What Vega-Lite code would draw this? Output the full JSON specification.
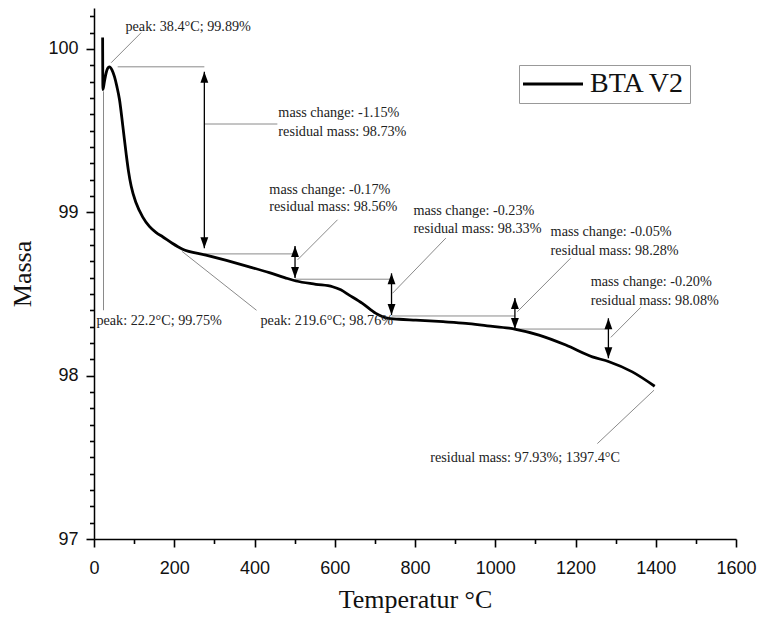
{
  "$schema": "https://vega.github.io/schema/vega-lite/v6.json",
  "width": 642,
  "height": 531,
  "autosize": {"type": "none"},
  "padding": {"left": 94, "top": 8, "right": 27, "bottom": 90},
  "background": "white",
  "config": {
    "view": {"stroke": null},
    "axis": {
      "grid": false,
      "domainColor": "#000",
      "domainWidth": 1.5,
      "tickColor": "#000",
      "tickWidth": 1.6,
      "labelFont": "Liberation Sans",
      "labelFontSize": 18,
      "labelColor": "#111",
      "titleFont": "Liberation Serif",
      "titleFontSize": 26,
      "titleFontWeight": "normal",
      "titleColor": "#111"
    }
  },
  "datasets": {
    "curve": [
      {"T": 21.5, "M": 100.07, "series": "BTA V2"},
      {"T": 22.2, "M": 99.75, "series": "BTA V2"},
      {"T": 26, "M": 99.80, "series": "BTA V2"},
      {"T": 30, "M": 99.85, "series": "BTA V2"},
      {"T": 34, "M": 99.88, "series": "BTA V2"},
      {"T": 38.4, "M": 99.89, "series": "BTA V2"},
      {"T": 45, "M": 99.87, "series": "BTA V2"},
      {"T": 51, "M": 99.83, "series": "BTA V2"},
      {"T": 57, "M": 99.77, "series": "BTA V2"},
      {"T": 63.5, "M": 99.69, "series": "BTA V2"},
      {"T": 71.7, "M": 99.53, "series": "BTA V2"},
      {"T": 80, "M": 99.36, "series": "BTA V2"},
      {"T": 86, "M": 99.25, "series": "BTA V2"},
      {"T": 92.6, "M": 99.16, "series": "BTA V2"},
      {"T": 105, "M": 99.056, "series": "BTA V2"},
      {"T": 121.5, "M": 98.97, "series": "BTA V2"},
      {"T": 138, "M": 98.913, "series": "BTA V2"},
      {"T": 155, "M": 98.875, "series": "BTA V2"},
      {"T": 171, "M": 98.85, "series": "BTA V2"},
      {"T": 195, "M": 98.81, "series": "BTA V2"},
      {"T": 219.6, "M": 98.775, "series": "BTA V2"},
      {"T": 279, "M": 98.738, "series": "BTA V2"},
      {"T": 330, "M": 98.705, "series": "BTA V2"},
      {"T": 387, "M": 98.666, "series": "BTA V2"},
      {"T": 437, "M": 98.63, "series": "BTA V2"},
      {"T": 475, "M": 98.6, "series": "BTA V2"},
      {"T": 503.5, "M": 98.579, "series": "BTA V2"},
      {"T": 553, "M": 98.559, "series": "BTA V2"},
      {"T": 594.6, "M": 98.544, "series": "BTA V2"},
      {"T": 615, "M": 98.525, "series": "BTA V2"},
      {"T": 636, "M": 98.493, "series": "BTA V2"},
      {"T": 669, "M": 98.442, "series": "BTA V2"},
      {"T": 702.6, "M": 98.381, "series": "BTA V2"},
      {"T": 727.6, "M": 98.354, "series": "BTA V2"},
      {"T": 760, "M": 98.345, "series": "BTA V2"},
      {"T": 802, "M": 98.34, "series": "BTA V2"},
      {"T": 870, "M": 98.33, "series": "BTA V2"},
      {"T": 927, "M": 98.32, "series": "BTA V2"},
      {"T": 980, "M": 98.305, "series": "BTA V2"},
      {"T": 1034.6, "M": 98.29, "series": "BTA V2"},
      {"T": 1051, "M": 98.283, "series": "BTA V2"},
      {"T": 1109, "M": 98.248, "series": "BTA V2"},
      {"T": 1176, "M": 98.187, "series": "BTA V2"},
      {"T": 1242, "M": 98.115, "series": "BTA V2"},
      {"T": 1283.6, "M": 98.085, "series": "BTA V2"},
      {"T": 1341.6, "M": 98.023, "series": "BTA V2"},
      {"T": 1397.4, "M": 97.935, "series": "BTA V2"}
    ],
    "guides": [
      {"x": 117.5, "y": 100.099, "x2": 42.8, "y2": 99.915},
      {"x": 59, "y": 99.89, "x2": 275, "y2": 99.89},
      {"x": 275, "y": 99.54, "x2": 457, "y2": 99.54},
      {"x": 275, "y": 98.745, "x2": 501, "y2": 98.745},
      {"x": 507.5, "y": 98.709, "x2": 607, "y2": 98.954},
      {"x": 501, "y": 98.59, "x2": 741.5, "y2": 98.59},
      {"x": 744, "y": 98.504, "x2": 877, "y2": 98.842},
      {"x": 741.5, "y": 98.365, "x2": 1049, "y2": 98.365},
      {"x": 1055, "y": 98.391, "x2": 1188, "y2": 98.719},
      {"x": 1049, "y": 98.285, "x2": 1282, "y2": 98.285},
      {"x": 1288, "y": 98.234, "x2": 1362.6, "y2": 98.418},
      {"x": 1395.7, "y": 97.911, "x2": 1254.5, "y2": 97.584},
      {"x": 23.7, "y": 99.74, "x2": 23.7, "y2": 98.4},
      {"x": 219.6, "y": 98.76, "x2": 405, "y2": 98.4}
    ],
    "arrows": [
      {"x": 275, "y": 99.86, "y2": 98.779},
      {"x": 501, "y": 98.793, "y2": 98.597},
      {"x": 741.5, "y": 98.626, "y2": 98.371},
      {"x": 1049, "y": 98.475, "y2": 98.285},
      {"x": 1282, "y": 98.351, "y2": 98.106}
    ],
    "heads": [
      {"x": 275, "y": 99.86, "dir": "up"},
      {"x": 275, "y": 98.779, "dir": "down"},
      {"x": 501, "y": 98.793, "dir": "up"},
      {"x": 501, "y": 98.597, "dir": "down"},
      {"x": 741.5, "y": 98.626, "dir": "up"},
      {"x": 741.5, "y": 98.371, "dir": "down"},
      {"x": 1049, "y": 98.475, "dir": "up"},
      {"x": 1049, "y": 98.285, "dir": "down"},
      {"x": 1282, "y": 98.351, "dir": "up"},
      {"x": 1282, "y": 98.106, "dir": "down"}
    ],
    "labels": [
      {"x": 78.4, "y": 100.135, "text": "peak: 38.4°C; 99.89%"},
      {"x": 459.5, "y": 99.605, "text": "mass change: -1.15%"},
      {"x": 459.5, "y": 99.493, "text": "residual mass: 98.73%"},
      {"x": 437, "y": 99.136, "text": "mass change: -0.17%"},
      {"x": 437, "y": 99.03, "text": "residual mass: 98.56%"},
      {"x": 796, "y": 99.009, "text": "mass change: -0.23%"},
      {"x": 796, "y": 98.897, "text": "residual mass: 98.33%"},
      {"x": 1138, "y": 98.881, "text": "mass change: -0.05%"},
      {"x": 1138, "y": 98.764, "text": "residual mass: 98.28%"},
      {"x": 1238, "y": 98.575, "text": "mass change: -0.20%"},
      {"x": 1238, "y": 98.458, "text": "residual mass: 98.08%"},
      {"x": 838, "y": 97.494, "text": "residual mass: 97.93%; 1397.4°C"},
      {"x": 6, "y": 98.335, "text": "peak: 22.2°C; 99.75%"},
      {"x": 415, "y": 98.335, "text": "peak: 219.6°C; 98.76%"}
    ]
  },
  "layer": [
    {
      "data": {"name": "guides"},
      "mark": {"type": "rule", "color": "#8a8a8a", "strokeWidth": 1},
      "encoding": {
        "x": {"field": "x", "type": "quantitative", "scale": {"domain": [0, 1600], "nice": false},
          "axis": {
            "title": "Temperatur °C",
            "values": [0, 100, 200, 300, 400, 500, 600, 700, 800, 900, 1000, 1100, 1200, 1300, 1400, 1500, 1600],
            "tickCount": 100,
            "labelExpr": "datum.value % 200 === 0 ? datum.label : ''",
            "format": "d",
            "labelFlush": false,
            "labelOverlap": false,
            "tickSize": {"condition": {"test": "datum.value % 200 === 0", "value": 8}, "value": 4.5},
            "labelPadding": 12,
            "titlePadding": 9
          }},
        "x2": {"field": "x2"},
        "y": {"field": "y", "type": "quantitative", "scale": {"domain": [97, 100.25], "nice": false, "zero": false},
          "axis": {
            "title": "Massa",
            "values": [97, 97.1, 97.2, 97.3, 97.4, 97.5, 97.6, 97.7, 97.8, 97.9, 98, 98.1, 98.2, 98.3, 98.4, 98.5, 98.6, 98.7, 98.8, 98.9, 99, 99.1, 99.2, 99.3, 99.4, 99.5, 99.6, 99.7, 99.8, 99.9, 100, 100.1, 100.2],
            "tickCount": 100,
            "labelExpr": "abs(datum.value - round(datum.value)) < 0.001 ? format(datum.value, 'd') : ''",
            "labelOverlap": false,
            "labelFlush": false,
            "tickSize": {"condition": {"test": "abs(datum.value - round(datum.value)) < 0.001", "value": 8}, "value": 4.5},
            "labelPadding": 8,
            "titlePadding": 12
          }},
        "y2": {"field": "y2"}
      }
    },
    {
      "data": {"name": "arrows"},
      "mark": {"type": "rule", "color": "#000", "strokeWidth": 1.3},
      "encoding": {
        "x": {"field": "x", "type": "quantitative"},
        "y": {"field": "y", "type": "quantitative"},
        "y2": {"field": "y2"}
      }
    },
    {
      "data": {"name": "heads"},
      "mark": {"type": "point", "filled": true, "color": "#000", "opacity": 1, "size": 110, "strokeWidth": 0},
      "encoding": {
        "x": {"field": "x", "type": "quantitative"},
        "y": {"field": "y", "type": "quantitative"},
        "shape": {"field": "dir", "type": "nominal", "legend": null,
          "scale": {"domain": ["up", "down"], "range": ["M0,0L-0.75,2.1L0.75,2.1Z", "M0,0L-0.75,-2.1L0.75,-2.1Z"]}}
      }
    },
    {
      "data": {"name": "curve"},
      "mark": {"type": "line", "strokeWidth": 2.8, "strokeJoin": "round", "interpolate": "monotone"},
      "encoding": {
        "x": {"field": "T", "type": "quantitative"},
        "y": {"field": "M", "type": "quantitative"},
        "color": {"field": "series", "type": "nominal",
          "scale": {"domain": ["BTA V2"], "range": ["#000"]},
          "legend": {
            "title": null,
            "orient": "none",
            "legendX": 425,
            "legendY": 57,
            "strokeColor": "#999",
            "fillColor": "#fff",
            "padding": 5,
            "symbolType": "M-1.5,0H4.5",
            "symbolSize": 400,
            "symbolStrokeWidth": 3,
            "symbolFillColor": "transparent",
            "labelFont": "Liberation Serif",
            "labelFontSize": 28,
            "labelColor": "#111",
            "labelOffset": 38
          }}
      }
    },
    {
      "data": {"name": "labels"},
      "mark": {"type": "text", "align": "left", "baseline": "middle", "font": "Liberation Serif", "fontSize": 14.2, "color": "#222"},
      "encoding": {
        "x": {"field": "x", "type": "quantitative"},
        "y": {"field": "y", "type": "quantitative"},
        "text": {"field": "text"}
      }
    }
  ]
}
